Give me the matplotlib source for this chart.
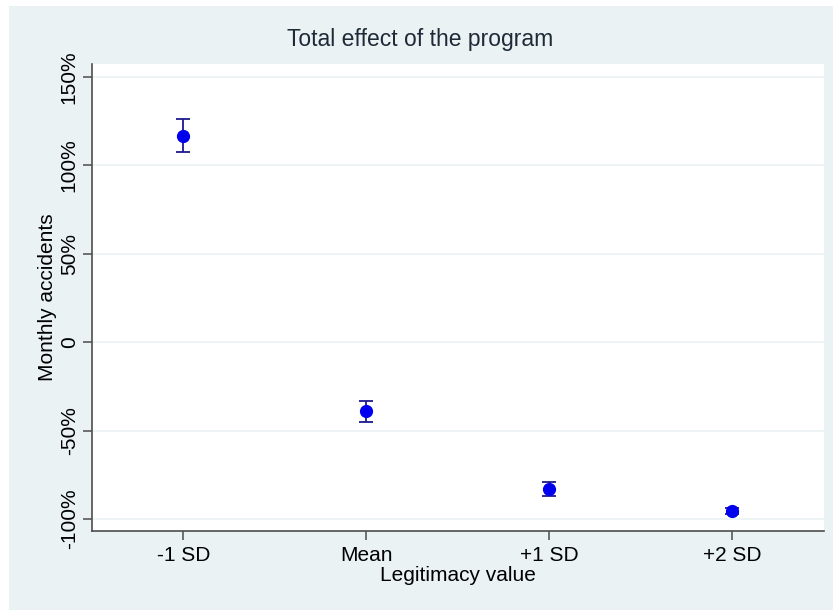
import matplotlib
matplotlib.use("Agg")
import matplotlib.pyplot as plt
from matplotlib.patches import Rectangle

# values (percent change in monthly accidents)
LEVELS = ["-1 SD", "Mean", "+1 SD", "+2 SD"]
EFFECT = [116.5, -39.0, -83.0, -95.5]
CI_LO = [107.5, -45.0, -86.8, -97.0]
CI_HI = [126.0, -33.0, -79.0, -94.0]
Y_TICKS = [-100, -50, 0, 50, 100, 150]
Y_TICKLABELS = ["-100%", "-50%", "0", "50%", "100%", "150%"]

BG = "#eaf2f3"
AXIS = "#4d4d4d"
TEXT = "#1e2a38"

plt.rcParams["font.family"] = ["Liberation Sans", "DejaVu Sans"]

fig = plt.figure(figsize=(8.33, 6.11), dpi=100)
fig.patch.set_facecolor("white")
fig.patches.append(Rectangle((0.0108, 0.0016), 0.9892, 0.9886, transform=fig.transFigure,
                             facecolor=BG, edgecolor="none", zorder=-10))

ax = fig.add_axes([0.1104, 0.1309, 0.8788, 0.7644])
ax.set_facecolor("white")

xs = list(range(1, len(LEVELS) + 1))
yerr = [[e - lo for e, lo in zip(EFFECT, CI_LO)], [hi - e for e, hi in zip(EFFECT, CI_HI)]]
ax.errorbar(xs, EFFECT, yerr=yerr, fmt="none", ecolor="#1a1a8c", elinewidth=1.3,
            capsize=5, capthick=1.3, zorder=3)
ax.plot(xs, EFFECT, "o", color="#0000ee", markersize=8.5, zorder=4)

ax.set_xlim(0.5, 4.5)
ax.set_ylim(-106.8, 157.4)
ax.set_xticks(xs, LEVELS)
ax.set_yticks(Y_TICKS, Y_TICKLABELS)
for lbl in ax.get_yticklabels():
    lbl.set_rotation(90)
    lbl.set_va("center")

ax.grid(axis="y", color=BG, linewidth=1.2, zorder=1)
ax.set_axisbelow(True)
for side in ("top", "right"):
    ax.spines[side].set_visible(False)
for side in ("left", "bottom"):
    ax.spines[side].set_color(AXIS)
    ax.spines[side].set_linewidth(1.2)
ax.tick_params(axis="both", colors=AXIS, labelcolor="black", length=6.5, width=1.1,
               labelsize=15)
ax.tick_params(axis="x", pad=4)
ax.tick_params(axis="y", pad=3)

ax.set_xlabel("Legitimacy value", fontsize=15, color="black", labelpad=1)
ax.set_ylabel("Monthly accidents", fontsize=15, color="black", labelpad=2)
fig.text(0.5045, 0.936, "Total effect of the program", fontsize=16.5, color=TEXT,
         ha="center", va="center")

fig.savefig("out.png", dpi=100, facecolor=fig.get_facecolor())
